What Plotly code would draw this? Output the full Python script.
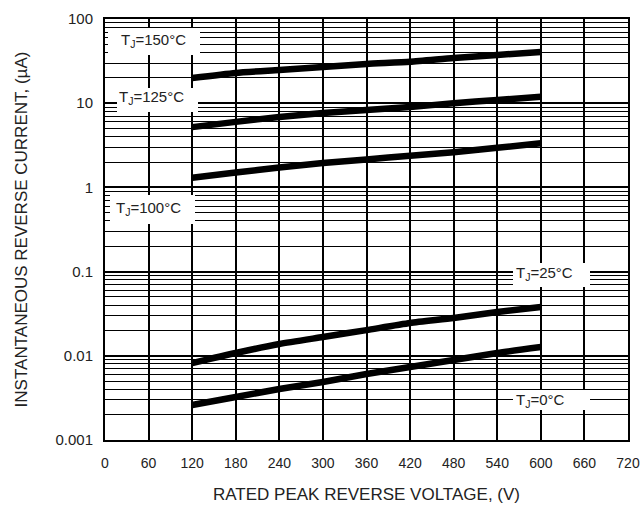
import plotly.graph_objects as go

# ---- data ----
voltage = [120, 180, 240, 300, 360, 420, 480, 540, 600]
i_150 = [19.9, 22.9, 24.8, 26.9, 29.2, 31.0, 34.4, 37.4, 40.5]
i_125 = [5.2, 6.0, 6.86, 7.65, 8.3, 9.0, 10.0, 10.9, 11.9]
i_100 = [1.3, 1.5, 1.72, 1.95, 2.15, 2.38, 2.62, 2.95, 3.35]
i_25 = [0.0082, 0.0108, 0.0138, 0.0167, 0.0202, 0.0245, 0.0281, 0.0331, 0.038]
i_0 = [0.0026, 0.00324, 0.00403, 0.00489, 0.00608, 0.00736, 0.0089, 0.0108, 0.0127]

x_ticks = list(range(0, 721, 60))
y_tickvals = [0.001, 0.01, 0.1, 1, 10, 100]
y_ticktext = ["0.001", "0.01", "0.1", "1", "10", "100"]

labels = ["T<sub>J</sub>=150°C", "T<sub>J</sub>=125°C", "T<sub>J</sub>=100°C",
          "T<sub>J</sub>=25°C", "T<sub>J</sub>=0°C"]

W, H = 641, 508
L, T = 105, 19
R = W - 628
B = H - 440
PW, PH = W - L - R, H - T - B


def pxp(px):
    return (px - L) / PW


def pyp(py):
    return (H - B - py) / PH


TXT = "#222222"
fig = go.Figure()
for ys in [i_150, i_125, i_100, i_25, i_0]:
    fig.add_trace(go.Scatter(x=voltage, y=ys, mode="lines",
                             line=dict(color="black", width=6.5, shape="spline", smoothing=0.6),
                             showlegend=False, hoverinfo="skip"))

# white boxes behind labels (page pixels: x0, x1, y0, y1)
boxes = [(108, 200, 28, 55), (117, 198, 88, 112), (110, 195, 195, 224),
         (513, 590, 263, 287), (513, 590, 390, 410)]
# label text centres (page pixels)
centers = [(153, 41), (151, 98), (148, 208), (544, 273), (540, 400)]
for (x0, x1, y0, y1) in boxes:
    fig.add_shape(type="rect", xref="paper", yref="paper",
                  x0=pxp(x0), x1=pxp(x1), y0=pyp(y1), y1=pyp(y0),
                  fillcolor="white", line=dict(width=0), layer="above")
for text, (cx, cy) in zip(labels, centers):
    fig.add_annotation(x=pxp(cx), y=pyp(cy), xref="paper", yref="paper", text=text,
                       showarrow=False, xanchor="center", yanchor="middle",
                       font=dict(family="Liberation Sans", size=15, color=TXT))

fig.update_layout(
    width=W, height=H,
    margin=dict(l=L, r=R, t=T, b=B, autoexpand=False),
    paper_bgcolor="white", plot_bgcolor="white",
    font=dict(family="Liberation Sans", size=14, color=TXT),
    xaxis=dict(range=[0, 720], tickvals=x_ticks, showgrid=True, gridcolor="black",
               gridwidth=1.5, zeroline=False, showline=True, linecolor="black",
               linewidth=2, mirror=True, ticks="", ticklabelstandoff=9,
               automargin=False, tickfont=dict(size=14), ticklabeloverflow="allow",
               title=dict(text="RATED PEAK REVERSE VOLTAGE, (V)", standoff=18,
                          font=dict(size=17, color=TXT))),
    yaxis=dict(type="log", range=[-3, 2], tickvals=y_tickvals, ticktext=y_ticktext,
               showgrid=True, gridcolor="black", gridwidth=1.5, zeroline=False,
               showline=True, linecolor="black", linewidth=2, mirror=True,
               ticks="", ticklabelstandoff=7, automargin=False, tickfont=dict(size=15),
               minor=dict(dtick="D1", showgrid=True, gridcolor="black", gridwidth=1.3, ticks=""),
               title=dict(text="INSTANTANEOUS REVERSE CURRENT, (µA)", standoff=24,
                          font=dict(size=17, color=TXT))),
)

fig.write_html("out.html", config={"displayModeBar": False},
               post_script="document.body.style.margin='0px';document.body.style.overflow='hidden';")
